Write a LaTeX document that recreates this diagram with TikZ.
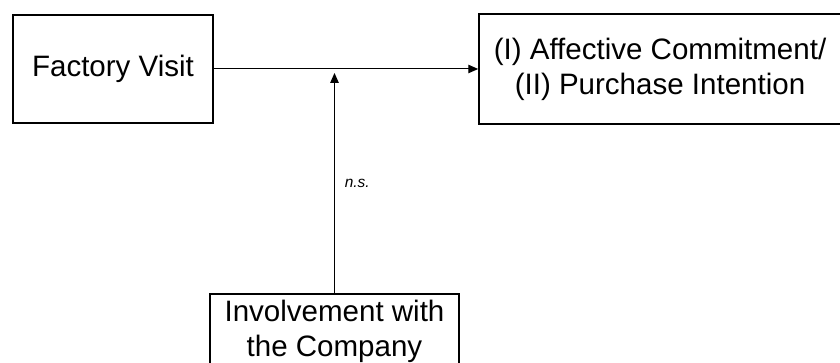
\documentclass[tikz,border=0pt]{standalone}
\usepackage{fontspec}
\setmainfont{Liberation Sans}
\usetikzlibrary{arrows.meta}

\begin{document}
\begin{tikzpicture}[
    box/.style={draw, line width=1.2pt, align=center, inner sep=0pt,
      font=\fontsize{21}{25}\selectfont},
    link/.style={line width=0.7pt, -{Triangle[length=7pt, width=6pt]}}
  ]
    \useasboundingbox (0,0) rectangle (21,9.075);
    % predictor, outcome and moderator
    \node[box, minimum width=5cm, minimum height=2.7cm] (visit) at (2.825,7.35) {Factory Visit};
    \node[box, minimum width=9.05cm, minimum height=2.75cm] (outcome) at (16.5,7.35)
      {(I) Affective Commitment/\\(II) Purchase Intention};
    \node[box, minimum width=6.225cm, minimum height=1.85cm] (involve) at (8.3625,0.8)
      {Involvement with\\the Company};
    % moderation arrow stops just short of the main path
    \coordinate (mod) at (8.3625,7.25);
    \draw[link] (visit) -- (outcome);
    \draw[link] (involve) -- (mod)
      node[midway, right=7pt, inner sep=0pt, font=\fontsize{11}{13}\selectfont\itshape] (ns) {n.s.};
\end{tikzpicture}
\end{document}
